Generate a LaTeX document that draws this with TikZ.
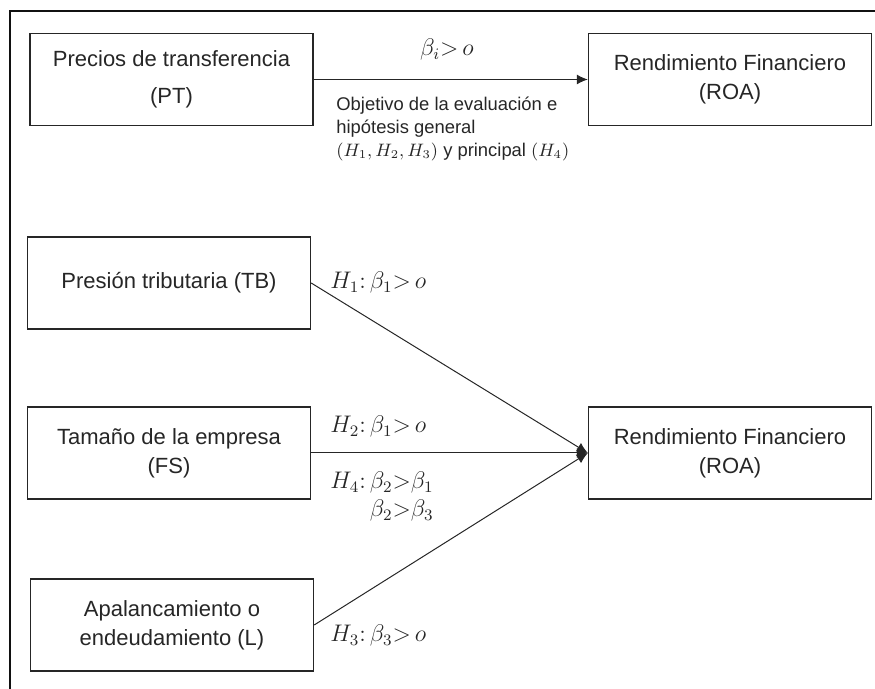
\documentclass[tikz,border=0pt]{standalone}
\usepackage{fontspec}
\setmainfont{Liberation Sans}
\usepackage{amsmath}
\usetikzlibrary{arrows.meta,positioning}
\definecolor{ink}{HTML}{262626}
\definecolor{rim}{HTML}{111111}
\tikzset{
  box/.style={draw=ink,line width=.7pt,minimum width=141.5pt,minimum height=46pt,inner sep=2pt,align=center,font=\fontsize{11}{14.5}\selectfont,text=ink},
  note/.style={align=left,font=\fontsize{9.2}{11.3}\selectfont,text=ink,inner sep=0pt},
  hyp/.style={anchor=west,align=left,inner sep=0pt,font=\fontsize{11.5}{14}\selectfont,text=ink},
  ar/.style={-{Latex[length=5.5pt,width=5pt]},draw=ink,line width=.5pt},
}

\begin{document}
\begin{tikzpicture}[x=.5pt,y=-.5pt]
  \useasboundingbox (0,0) rectangle (875,689);
  \draw[draw=rim,line width=.8pt] (9,11) -- (875,11);
  \draw[draw=rim,line width=.8pt] (10,11) -- (10,689);

  \node[box] (pt) at (171.5,79.5) {Precios de transferencia\\[4pt](PT)};
  \node[box] (roa) at (730,79.5) {Rendimiento Financiero\\(ROA)};
  \node[box] (tb) at (169,283) {Presión tributaria (TB)};
  \node[box] (fs) at (169,453) {Tamaño de la empresa\\(FS)};
  \node[box] (lv) at (172,625) {Apalancamiento o\\endeudamiento (L)};
  \node[box] (roab) at (730,453) {Rendimiento Financiero\\(ROA)};

  \draw[ar] (pt) -- (roa);
  \draw[ar] (tb.east) -- (roab.west);
  \draw[ar] (fs) -- (roab);
  \draw[ar] (lv.east) -- (roab.west);

  \node[hyp,anchor=center] (bi) at (447,50) {$\beta_i{>}\,o$};
  \node[note,anchor=north west] (obj) at (336,97) {Objetivo de la evaluación e\\hipótesis general\\$(H_1,H_2,H_3)$ y principal $(H_4)$};
  \node[hyp] (h1) at (330,283) {$H_1{:}\,\beta_1{>}\,o$};
  \node[hyp] (h2) at (330,427) {$H_2{:}\,\beta_1{>}\,o$};
  \node[hyp] (h4) at (330,497) {$H_4{:}\,\beta_2{>}\beta_1$\\$\hphantom{H_4{:}\,}\beta_2{>}\beta_3$};
  \node[hyp] (h3) at (330,636) {$H_3{:}\,\beta_3{>}\,o$};
\end{tikzpicture}
\end{document}
